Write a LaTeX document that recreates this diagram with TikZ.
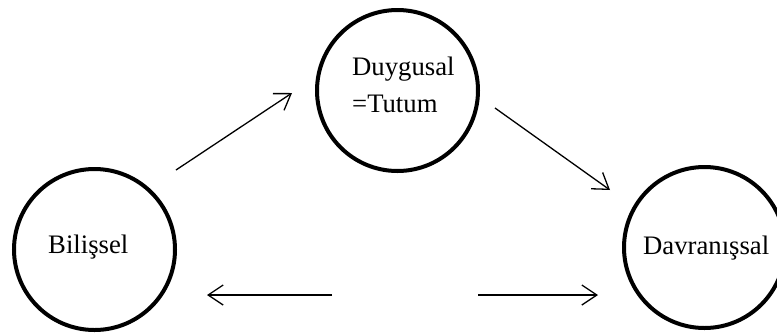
\documentclass[tikz,border=0pt]{standalone}
\usepackage{fontspec}
\setmainfont{Liberation Serif}
\usetikzlibrary{arrows.meta}
\begin{document}
\begin{tikzpicture}[x=1pt,y=-1pt,
  circ/.style={draw,circle,line width=4pt,minimum size=161pt,inner sep=0pt},
  lbl/.style={font=\fontsize{26.7}{37}\selectfont,inner sep=0pt,anchor=base west,align=left},
  conn/.style={line width=1.3pt,-{Straight Barb[length=15pt,width=20pt,line width=1.3pt]}}]
\useasboundingbox (0,0) rectangle (777,333);
\node[circ] (cog) at (94.5,249.5) {};
\node[circ] (aff) at (397.5,90.5) {};
\node[circ] (beh) at (704.5,247.5) {};
\node[lbl] (tcog) at (48,253) {Bilişsel};
\node[lbl] (taff) at (352,112) {Duygusal\\=Tutum};
\node[lbl] (tbeh) at (643,254) {Davranışsal};
\coordinate (a1s) at (176,170);
\coordinate (a1e) at (292,93);
\coordinate (a2s) at (495,108);
\coordinate (a2e) at (610,190);
\coordinate (a3s) at (332,295);
\coordinate (a3e) at (207,295);
\coordinate (a4s) at (478,295);
\coordinate (a4e) at (598,295);
\draw[conn] (a1s) -- (a1e);
\draw[conn] (a2s) -- (a2e);
\draw[conn] (a3s) -- (a3e);
\draw[conn] (a4s) -- (a4e);
\end{tikzpicture}
\end{document}
